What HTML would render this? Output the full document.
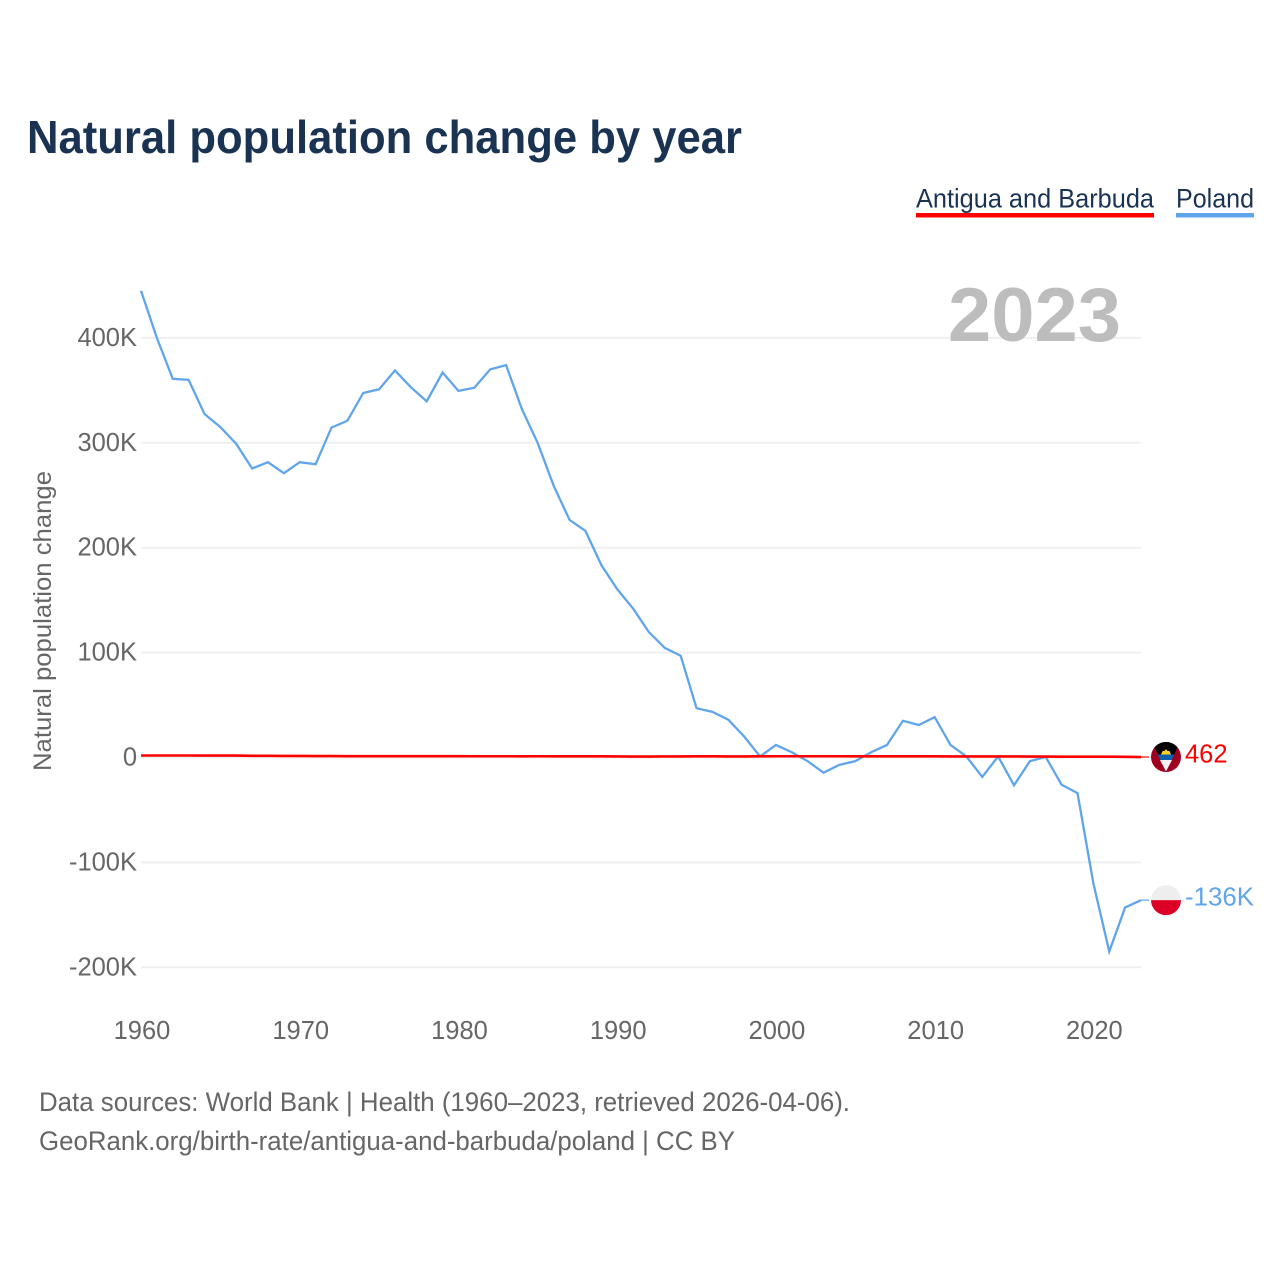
<!DOCTYPE html>
<html lang="en">
<head>
<meta charset="utf-8">
<title>Natural population change by year</title>
<style>
html,body{margin:0;padding:0;background:#fff;width:1280px;height:1280px;overflow:hidden}
svg{display:block;font-family:"Liberation Sans",sans-serif}
</style>
</head>
<body>
<svg id="chart" xmlns="http://www.w3.org/2000/svg" width="1280" height="1280" viewBox="0 0 1280 1280">
  <rect width="1280" height="1280" fill="#fff"/>
  <text x="27" y="153" font-size="46" font-weight="700" fill="#1a3353" textLength="715" lengthAdjust="spacingAndGlyphs">Natural population change by year</text>
  <g>
    <g>
      <text x="916" y="207.5" font-size="27" fill="#1a3353" textLength="238" lengthAdjust="spacingAndGlyphs">Antigua and Barbuda</text>
      <rect x="916" y="213" width="238" height="4.5" fill="#ff0000"/>
    </g>
    <g>
      <text x="1176" y="207.5" font-size="27" fill="#1a3353" textLength="78" lengthAdjust="spacingAndGlyphs">Poland</text>
      <rect x="1176" y="213" width="78" height="4.5" fill="#60a5ec"/>
    </g>
  </g>
  <g id="grid"></g>
  <text x="948" y="341" font-size="76" font-weight="700" fill="#bdbdbd" textLength="173" lengthAdjust="spacingAndGlyphs">2023</text>
  <g id="yticks"></g>
  <g id="xticks"></g>
  <text transform="translate(51 771) rotate(-90)" font-size="25" fill="#666" textLength="300" lengthAdjust="spacingAndGlyphs">Natural population change</text>
  <g id="series"></g>
  <g id="ends"></g>
  <text x="39" y="1111" font-size="27" fill="#666" textLength="811" lengthAdjust="spacingAndGlyphs">Data sources: World Bank | Health (1960–2023, retrieved 2026-04-06).</text>
  <text x="39" y="1150" font-size="27" fill="#666" textLength="696" lengthAdjust="spacingAndGlyphs">GeoRank.org/birth-rate/antigua-and-barbuda/poland | CC BY</text>
</svg>
<script>
const startYear = 1960;
const polandValues = [445,400,361,360,327.5,315,299,275.5,281.5,271,281.5,279.5,314.5,321,347.5,351,369,353,339.5,367,349.5,352.5,370,374,332,299.5,259,226.5,216,183.5,160.5,142,119.5,104.5,97,47,43.5,36,20,1,12,5,-3.5,-14.5,-7,-3.5,5,12,35,31,38.5,12,1,-18.5,1,-26.5,-3.5,0.5,-26,-34,-120,-185,-143,-136];
const antiguaValues = [1.9,1.9,1.9,1.9,1.8,1.8,1.8,1.6,1.6,1.5,1.5,1.4,1.4,1.3,1.3,1.3,1.3,1.3,1.3,1.3,1.3,1.2,1.2,1.2,1.1,1.2,1.1,1.1,1.1,1.1,1,0.9,0.9,1,1,1.1,1.1,1,1,1.1,1.2,1.2,1.2,1.2,1.2,1.1,1.1,1.1,1.1,1.1,1.1,1,1,1,1,1,0.9,0.9,0.8,0.8,0.8,0.8,0.7,0.462];
const yTickValues = [400,300,200,100,0,-100,-200];
const yTickLabels = ['400K','300K','200K','100K','0','-100K','-200K'];
const xTickValues = [1960,1970,1980,1990,2000,2010,2020];
const xTickLabels = ['1960','1970','1980','1990','2000','2010','2020'];
const endLabels = ['462','-136K'];

const NS = 'http://www.w3.org/2000/svg';
const xScale = year => 141 + (year - 1960) * (1000 / 63);
const yScale = v => 757.5 - v * 1.049;

function mk(parent, tag, attrs, text) {
  const el = document.createElementNS(NS, tag);
  for (const k in attrs) el.setAttribute(k, attrs[k]);
  if (text !== undefined) el.textContent = text;
  parent.appendChild(el);
  return el;
}

const grid = document.getElementById('grid');
const yt = document.getElementById('yticks');
yTickValues.forEach((v, i) => {
  const line = mk(grid, 'line', {x1: 141, x2: 1141, y1: yScale(v), y2: yScale(v), stroke: '#efefef', 'stroke-width': 2});
  
  
  const t = mk(yt, 'text', {x: 137, y: yScale(v) + 8, 'text-anchor': 'end', 'font-size': 25.5, fill: '#666'}, yTickLabels[i]);
  
  
});

const xt = document.getElementById('xticks');
xTickValues.forEach((yr, i) => {
  const t = mk(xt, 'text', {x: xScale(yr) + 1, y: 1039, 'text-anchor': 'middle', 'font-size': 25.5, fill: '#666'}, xTickLabels[i]);
  
  
});

const pathFor = vals => vals.map((v, i) => (i ? 'L' : 'M') + xScale(startYear + i).toFixed(2) + ' ' + yScale(v).toFixed(2)).join('');

const seriesG = document.getElementById('series');
const pl = mk(seriesG, 'path', {d: pathFor(polandValues), fill: 'none', stroke: '#60a5ec', 'stroke-width': 2.3, 'stroke-linejoin': 'miter'});


const ag = mk(seriesG, 'path', {d: pathFor(antiguaValues), fill: 'none', stroke: '#ff0000', 'stroke-width': 2.6});



const ends = document.getElementById('ends');
const lastX = xScale(startYear + polandValues.length - 1);
const agY = yScale(antiguaValues[antiguaValues.length - 1]);
const plY = yScale(polandValues[polandValues.length - 1]);

const agConn = mk(ends, 'line', {x1: lastX, x2: lastX + 8, y1: agY, y2: agY, stroke: '#ff0000', 'stroke-width': 1.2});


const plConn = mk(ends, 'line', {x1: lastX, x2: lastX + 8, y1: plY, y2: plY, stroke: '#60a5ec', 'stroke-width': 1.2});



const defs = mk(ends, 'defs', {});
const clip = mk(defs, 'clipPath', {id: 'flag-clip'});
mk(clip, 'circle', {cx: 0, cy: 0, r: 15});

const agFlag = mk(ends, 'g', {transform: 'translate(1166 ' + agY + ')', 'clip-path': 'url(#flag-clip)'});


mk(agFlag, 'rect', {x: -15, y: -15, width: 30, height: 30, fill: '#a00020'});
mk(agFlag, 'polygon', {points: '-14,-15 14,-15 0,15', fill: '#000'});
mk(agFlag, 'polygon', {points: '-5,-2.5 -3.5,-6 -1.5,-6 0,-8 1.5,-6 3.5,-6 5,-2.5', fill: '#fcd116'});
mk(agFlag, 'polygon', {points: '-8.5,-2.5 8.5,-2.5 5.6,3 -5.6,3', fill: '#0f5fb0'});
mk(agFlag, 'polygon', {points: '-6,3 6,3 0,14.5', fill: '#f2f2f2'});

const plFlag = mk(ends, 'g', {transform: 'translate(1166 ' + plY + ')', 'clip-path': 'url(#flag-clip)'});


mk(plFlag, 'rect', {x: -15, y: -15, width: 30, height: 15, fill: '#eeeeee'});
mk(plFlag, 'rect', {x: -15, y: 0, width: 30, height: 15, fill: '#dc0027'});

const agLabel = mk(ends, 'text', {x: 1185, y: agY + 5.5, 'font-size': 25.5, fill: '#ff0000'}, endLabels[0]);


const plLabel = mk(ends, 'text', {x: 1185, y: plY + 5.5, 'font-size': 25.5, fill: '#60a5ec', textLength: 69, lengthAdjust: 'spacingAndGlyphs'}, endLabels[1]);


</script>
</body>
</html>
